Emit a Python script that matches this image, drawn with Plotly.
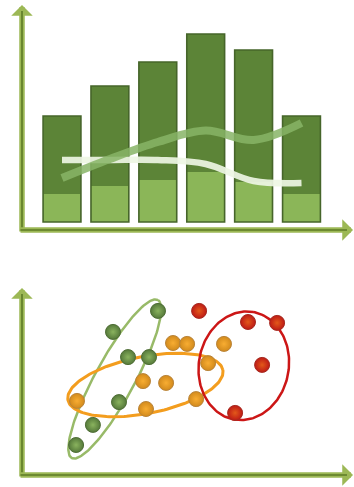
import numpy as np
import plotly.graph_objects as go

W, H = 354, 487

# ---- upper panel: two-tone columns with two trend lines ----
periods = ["P1", "P2", "P3", "P4", "P5", "P6"]
base_part = [14, 18, 21, 25, 20, 14]
upper_part = [39, 50, 59, 69, 66, 39]
trend_a = [22, 31.5, 40, 45.7, 41, 49.5]
trend_b = [31, 31, 31, 29, 20.5, 19.5]

# ---- lower panel: three clusters ----
green_x = [45, 30, 35, 42, 32, 23.3, 17.7]
green_y = [54.7, 47.7, 39.3, 39.3, 24.3, 16.7, 10]
orange_x = [50, 54.7, 67, 61.7, 40, 47.7, 18, 41, 57.7]
orange_y = [44, 43.7, 43.7, 37.3, 31.3, 30.7, 24.7, 22, 25.3]
red_x = [58.7, 75, 84.7, 79.7, 70.7]
red_y = [54.7, 51, 50.7, 36.7, 20.7]

# cluster outlines: centre x, centre y, semi-major, semi-minor, tilt (deg)
green_ring = (30.6, 32.0, 30.0, 6.6, 61.4)
orange_ring = (40.8, 30.0, 26.3, 9.5, 11.0)
red_ring = (73.6, 36.4, 18.2, 15.0, 80.0)


def ring(cx, cy, a, b, deg, n=181):
    t = np.linspace(0, 2 * np.pi, n)
    th = np.radians(deg)
    x = cx + a * np.cos(t) * np.cos(th) - b * np.sin(t) * np.sin(th)
    y = cy + a * np.cos(t) * np.sin(th) + b * np.sin(t) * np.cos(th)
    return x, y


totals = [b + u for b, u in zip(base_part, upper_part)]

fig = go.Figure()

# full column in the dark tone, lighter lower band over it, then one outline
fig.add_trace(go.Bar(x=periods, y=totals, width=0.79,
                     marker=dict(color="#5c8437", line=dict(width=0)),
                     xaxis="x", yaxis="y"))
fig.add_trace(go.Bar(x=periods, y=base_part, width=0.79,
                     marker=dict(color="#8bb658", line=dict(width=0)),
                     xaxis="x", yaxis="y"))
fig.add_trace(go.Bar(x=periods, y=totals, width=0.79,
                     marker=dict(color="rgba(0,0,0,0)", line=dict(color="#46652a", width=1.6)),
                     xaxis="x", yaxis="y"))

fig.add_trace(go.Scatter(x=periods, y=trend_b, mode="lines",
                         line=dict(color="rgba(238,246,228,0.92)", width=6.5, shape="spline"),
                         xaxis="x", yaxis="y"))
fig.add_trace(go.Scatter(x=periods, y=trend_a, mode="lines",
                         line=dict(color="rgba(135,180,102,0.85)", width=8, shape="spline"),
                         xaxis="x", yaxis="y"))

for params, col, lw in [(green_ring, "#98ba68", 2.5),
                        (orange_ring, "#f39d1e", 3),
                        (red_ring, "#cc1616", 2.5)]:
    ex, ey = ring(*params)
    fig.add_trace(go.Scatter(x=ex, y=ey, mode="lines",
                             line=dict(color=col, width=lw),
                             xaxis="x2", yaxis="y2"))

for xs, ys, centre, edge, rim in [
    (green_x, green_y, "#8ab35e", "#55793a", "#4f6e36"),
    (orange_x, orange_y, "#f8ad32", "#d28a1c", "#b9843a"),
    (red_x, red_y, "#e2591a", "#be1a16", "#a52a20"),
]:
    fig.add_trace(go.Scatter(x=xs, y=ys, mode="markers",
                             marker=dict(size=15, color=edge,
                                         gradient=dict(type="radial", color=centre),
                                         line=dict(color=rim, width=1)),
                             xaxis="x2", yaxis="y2"))


def px(x):
    return x / W


def py(y):
    return 1 - y / H


def axis_arrow(x0, y0, x1, y1):
    # wide light stroke with arrow head, then a thin darker core
    out = []
    out.append(dict(x=px(x1), y=py(y1), ax=x0 - x1, ay=y0 - y1,
                    xref="paper", yref="paper", axref="pixel", ayref="pixel",
                    text="", showarrow=True, arrowhead=1, arrowsize=0.65,
                    arrowwidth=5.5, arrowcolor="#9cb855", standoff=0))
    out.append(dict(x=px(x1), y=py(y1), ax=x0 - x1, ay=y0 - y1,
                    xref="paper", yref="paper", axref="pixel", ayref="pixel",
                    text="", showarrow=True, arrowhead=0,
                    arrowwidth=1.6, arrowcolor="#5d7b26", standoff=6))
    return out


annotations = []
annotations += axis_arrow(22, 233, 22, 5)
annotations += axis_arrow(19, 230, 353, 230)
annotations += axis_arrow(22, 478, 22, 288)
annotations += axis_arrow(19, 475, 353, 475)

hidden = dict(visible=False, showgrid=False, zeroline=False)

fig.update_layout(
    width=W, height=H,
    margin=dict(l=0, r=0, t=0, b=0),
    paper_bgcolor="white", plot_bgcolor="rgba(0,0,0,0)",
    showlegend=False, barmode="overlay",
    xaxis=dict(domain=[0, 1], range=[-62 / 47.9, (354 - 62) / 47.9], **hidden),
    yaxis=dict(domain=[1 - 240 / H, 1], range=[-9, 111], **hidden),
    xaxis2=dict(domain=[0, 1], range=[-23 / 3, (354 - 23) / 3], anchor="y2", **hidden),
    yaxis2=dict(domain=[0, 242 / H], range=[-4, (475 - 245) / 3], anchor="x2", **hidden),
    annotations=annotations,
)

fig.write_html("out.html")
